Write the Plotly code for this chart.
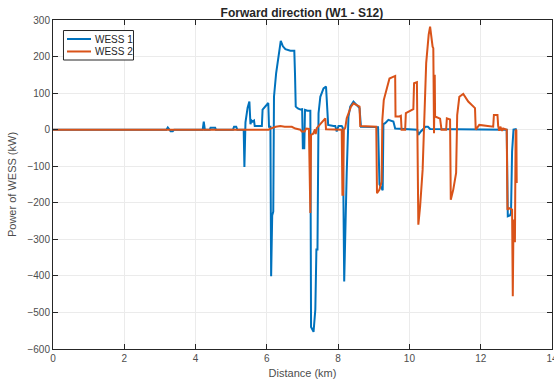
import plotly.graph_objects as go

# WESS power profiles along the forward run (W1 -> S12)
wess1_km = [0, 3.18, 3.22, 3.26, 3.30, 3.36, 3.40, 4.20, 4.23, 4.26, 4.40, 4.42, 4.55, 4.57,
            5.05, 5.08, 5.14, 5.17, 5.35, 5.37, 5.40, 5.46, 5.51, 5.54, 5.57, 5.60, 5.64, 5.66,
            5.86, 5.88, 5.96, 6.04, 6.06, 6.10, 6.12, 6.15, 6.18, 6.20, 6.26, 6.33, 6.39, 6.45,
            6.52, 6.66, 6.77, 6.79, 6.81, 6.87, 6.94, 6.99, 7.01, 7.05, 7.07, 7.14, 7.20, 7.22,
            7.24, 7.31, 7.36, 7.39, 7.42, 7.43, 7.45, 7.50, 7.59, 7.66, 7.70, 7.72, 7.87, 7.92,
            7.96, 8.01, 8.10, 8.13, 8.17, 8.20, 8.22, 8.24, 8.29, 8.34, 8.43, 8.52, 8.60, 8.64,
            9.09, 9.12, 9.16, 9.25, 9.27, 9.32, 9.41, 9.55, 9.60, 10.22, 10.25, 10.32, 10.45,
            10.52, 10.58, 12.73, 12.76, 12.82, 12.85, 12.88, 12.92, 13.00, 13.01]
wess1_kw = [0, 0, 6, 0, -4, -4, 0, 0, 22, 0, 0, 5, 5, 0,
            0, 8, 8, 0, 0, -102, 20, 60, 77, 15, 25, 22, 25, 10,
            10, 55, 63, 73, 8, 8, -401, -235, -224, 90, 154, 210, 243, 228,
            220, 216, 216, 150, 63, 58, 55, 56, -51, -51, 54, 52, 52, 52,
            -540, -553, -492, -328, -328, -155, 45, 90, 113, 118, 27, 13, 10, 10,
            -5, 10, 10, 5, -415, -274, -274, -119, 36, 63, 77, 68, 59, 8,
            7, 7, -150, -166, 15, 18, 27, 22, 3, 0, -14, -5, 8,
            8, 2, 0, -237, -235, -228, -60, 0, 3, 2]

wess2_km = [0, 6.05, 6.10, 6.25, 6.38, 6.50, 6.70, 6.80, 6.94, 6.98, 7.06, 7.10, 7.18, 7.20,
            7.22, 7.24, 7.30, 7.35, 7.37, 7.40, 7.50, 7.54, 7.60, 7.64, 7.66, 7.90, 8.10, 8.12,
            8.14, 8.16, 8.20, 8.24, 8.30, 8.36, 8.43, 8.57, 8.60, 8.62, 9.07, 9.09, 9.16, 9.22,
            9.24, 9.28, 9.37, 9.44, 9.60, 9.61, 9.72, 9.76, 9.78, 9.88, 9.90, 9.95, 10.11, 10.13,
            10.21, 10.25, 10.30, 10.37, 10.41, 10.47, 10.54, 10.58, 10.65, 10.67, 10.69, 10.71,
            10.72, 10.86, 10.90, 11.03, 11.05, 11.14, 11.16, 11.23, 11.31, 11.34, 11.40, 11.51,
            11.65, 11.84, 11.86, 11.96, 12.35, 12.37, 12.47, 12.49, 12.52, 12.55, 12.60, 12.63,
            12.73, 12.75, 12.80, 12.85, 12.88, 12.90, 12.92, 12.94, 12.96, 12.98, 13.00, 13.01]
wess2_kw = [0, 0, 3, 8, 10, 8, 8, 3, 0, -5, -5, 3, 2, -228,
            -228, -14, -11, 1, -12, 4, 15, 19, 26, 31, 1, 0, 0, -178,
            -178, 0, 5, 31, 50, 63, 72, 65, 63, 10, 8, -174, -164, -142,
            27, 81, 113, 140, 147, 36, 36, 38, 0, 0, 45, 48, 56, 127,
            130, -260, -210, -110, 27, 182, 260, 282, 227, 223, -10, 150,
            36, 30, 0, 0, 31, 28, -192, -164, -118, 40, 90, 98,
            77, 59, 0, 13, 8, 40, 40, 10, -3, 8, -3, 3,
            0, -219, -215, -219, -219, -456, -246, -305, -305, 0, -2, -146]

series_names = ["WESS 1", "WESS 2"]
series_colors = ["#0072BD", "#D95319"]

x_ticks = [0, 2, 4, 6, 8, 10, 12, 14]
y_ticks = [300, 200, 100, 0, -100, -200, -300, -400, -500, -600]

FONT = "Liberation Sans, Arial, sans-serif"

fig = go.Figure()
for xs, ys, name, color in zip([wess1_km, wess2_km], [wess1_kw, wess2_kw],
                               series_names, series_colors):
    fig.add_trace(go.Scatter(x=xs, y=ys, mode="lines", name=name, showlegend=False,
                             line=dict(color=color, width=2)))

axis_common = dict(
    showgrid=True, gridcolor="#ebebeb", gridwidth=1,
    showline=True, linecolor="#262626", linewidth=1, mirror="ticks",
    ticks="inside", ticklen=5, tickcolor="#262626",
    zeroline=False, ticklabeloverflow="allow", automargin=False,
    tickfont=dict(family=FONT, size=10, color="#4d4d4d"),
)

fig.update_xaxes(range=[0, 14], tickvals=x_ticks, **axis_common,
                 title=dict(text="Distance (km)", standoff=6,
                            font=dict(family=FONT, size=11, color="#4d4d4d")))
fig.update_yaxes(range=[-600, 300], tickvals=y_ticks, **axis_common,
                 title=dict(text="Power of WESS (kW)", standoff=8,
                            font=dict(family=FONT, size=11, color="#4d4d4d")))

# Compact boxed legend in the upper-left corner of the axes
legend_box = dict(x0=0.021, x1=0.1613, y0=0.8784, y1=0.968)
legend_rows_y = [0.9422, 0.9043]
fig.add_shape(type="rect", xref="paper", yref="paper", **legend_box,
              line=dict(color="#262626", width=1), fillcolor="white", layer="above")
for row_y, name, color in zip(legend_rows_y, series_names, series_colors):
    fig.add_shape(type="line", xref="paper", yref="paper", x0=0.028, x1=0.0762,
                  y0=row_y, y1=row_y, line=dict(color=color, width=2), layer="above")
    fig.add_annotation(xref="paper", yref="paper", x=0.0802, y=row_y, text=name,
                       showarrow=False, xanchor="left", yanchor="middle",
                       font=dict(family=FONT, size=10, color="#262626"))

fig.update_layout(
    width=554, height=385,
    margin=dict(l=53, r=2, t=20, b=36),
    paper_bgcolor="white", plot_bgcolor="white",
    title=dict(text="<b>Forward direction (W1 - S12)</b>", x=0.545, xanchor="center",
               y=0.978, yanchor="top",
               font=dict(family=FONT, size=12, color="#262626")),
    showlegend=False,
)

fig.write_html("out.html", post_script="document.body.style.margin='0';")
